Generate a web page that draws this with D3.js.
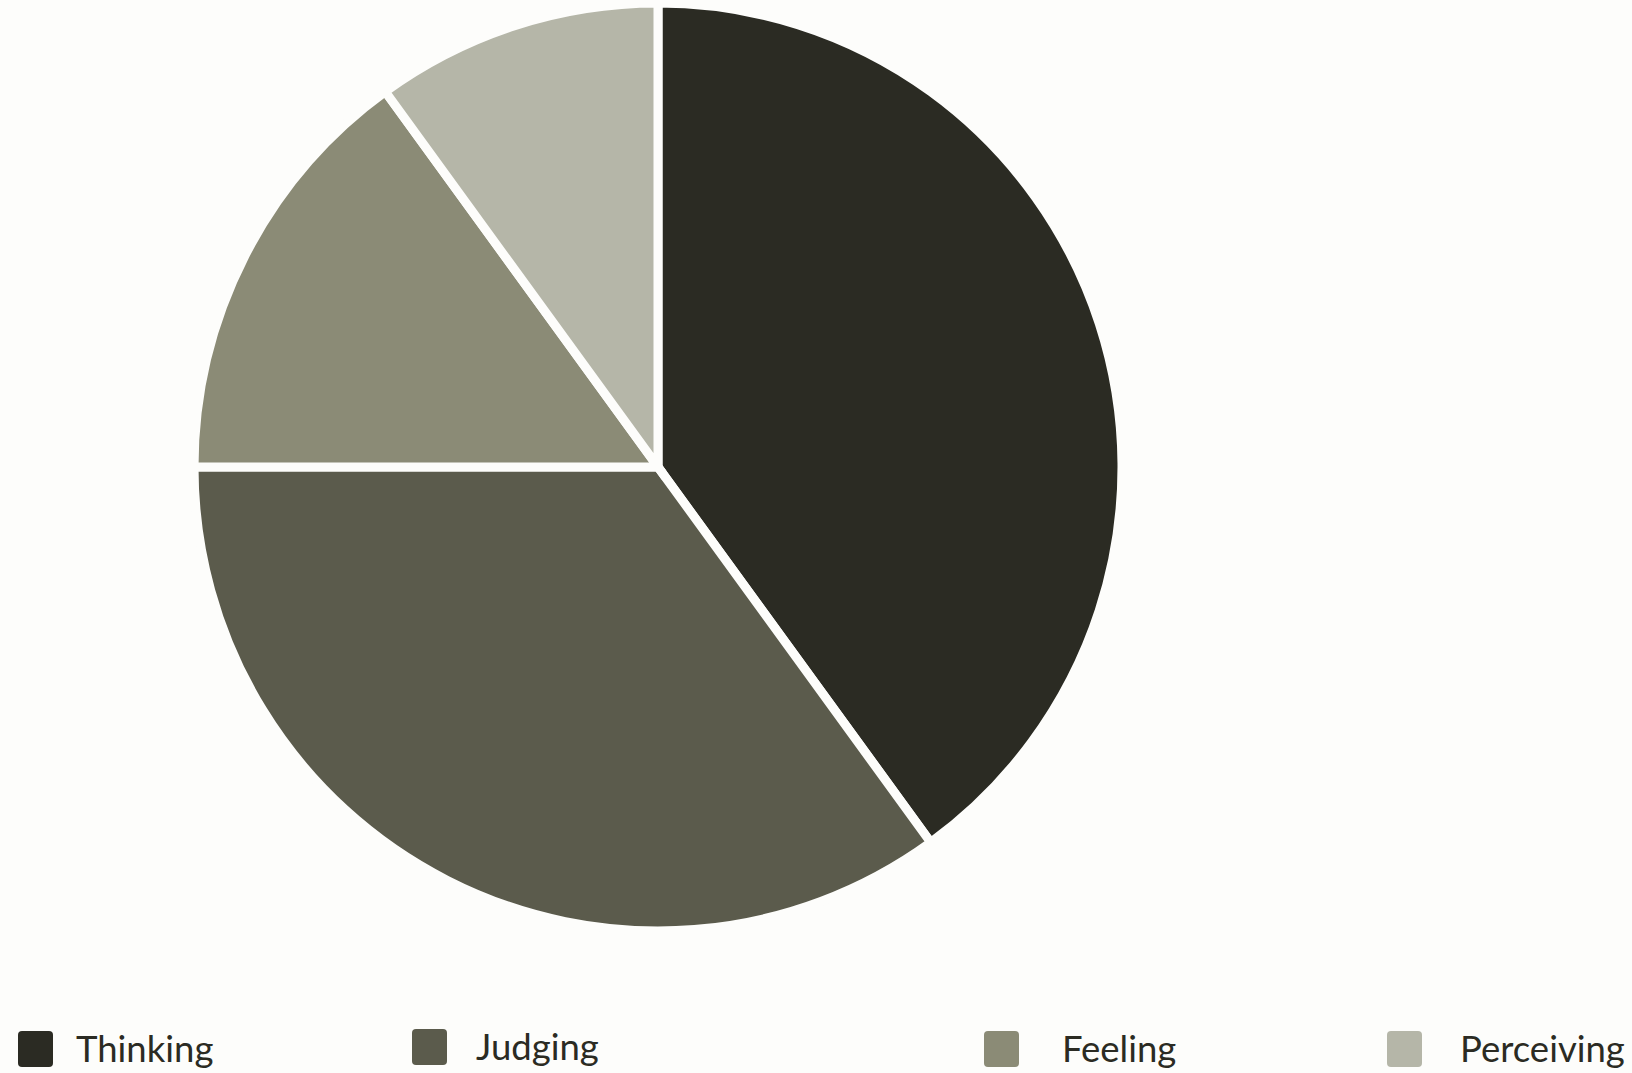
<!DOCTYPE html>
<html>
<head>
<meta charset="utf-8">
<script src="https://cdn.jsdelivr.net/npm/d3@7"></script>
<style>
  html, body { margin: 0; padding: 0; background: #fdfdfb; }
  svg { display: block; }
</style>
</head>
<body>
<div id="chart"></div>
<script>
// data
var categories = ["Thinking", "Judging", "Feeling", "Perceiving"];
var values = [40, 35, 15, 10];
var colors = ["#2b2b23", "#5b5b4c", "#8b8b76", "#b5b6a8"];

var width = 1632, height = 1073;
var cx = 658, cy = 467, radius = 464;

// legend layout (the original spacing is uneven)
var legendX = [18, 412, 984, 1387];
var legendTextX = [76, 476, 1062, 1460];
var legendY = [1031, 1029, 1031, 1031];

var svg = d3.select("#chart").append("svg")
    .attr("width", width)
    .attr("height", height);

svg.append("rect")
    .attr("width", width)
    .attr("height", height)
    .attr("fill", "#fdfdfb");

var data = categories.map(function(c, i) { return {name: c, value: values[i]}; });

var pie = d3.pie()
    .sort(null)
    .value(function(d) { return d.value; });

var arc = d3.arc()
    .innerRadius(0)
    .outerRadius(radius);

var color = d3.scaleOrdinal().domain(categories).range(colors);

var g = svg.append("g")
    .attr("transform", "translate(" + cx + "," + cy + ")");

g.selectAll("path")
    .data(pie(data))
  .enter().append("path")
    .attr("d", arc)
    .attr("fill", function(d) { return color(d.data.name); })
    .attr("stroke", "#fdfdfb")
    .attr("stroke-width", 9)
    .attr("stroke-linejoin", "miter");

var legend = svg.append("g").attr("class", "legend");

var items = legend.selectAll("g")
    .data(data)
  .enter().append("g");

items.append("rect")
    .attr("x", function(d, i) { return legendX[i]; })
    .attr("y", function(d, i) { return legendY[i]; })
    .attr("width", 35)
    .attr("height", 36)
    .attr("rx", 4)
    .attr("fill", function(d) { return color(d.name); });

items.append("text")
    .attr("x", function(d, i) { return legendTextX[i]; })
    .attr("y", function(d, i) { return legendY[i] + 31; })
    .style("font-family", "Lato, sans-serif")
    .style("font-size", "36.5px")
    .style("fill", "#2b2b23")
    .text(function(d) { return d.name; });
</script>
</body>
</html>
